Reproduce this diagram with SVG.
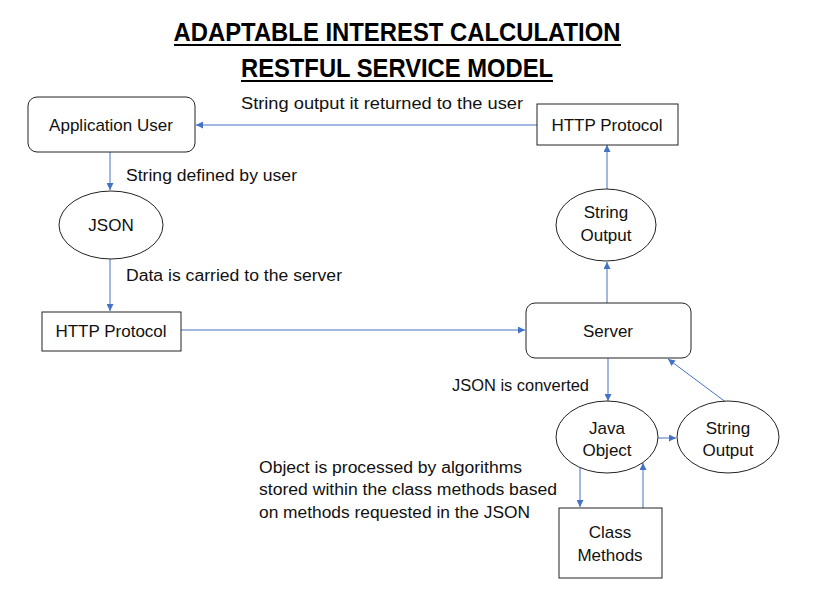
<svg xmlns="http://www.w3.org/2000/svg" width="818" height="598" viewBox="0 0 818 598">
<style>
.n{fill:#fff;stroke:#222;stroke-width:1}
.t{font-family:"Liberation Sans",Arial,sans-serif;font-size:17px;fill:#111;text-anchor:middle}
.l{font-family:"Liberation Sans",Arial,sans-serif;font-size:16px;fill:#111}
.c{fill:none;stroke:#4472C4;stroke-width:1}
.h{font-family:"Liberation Sans",Arial,sans-serif;font-size:26px;font-weight:bold;fill:#000;text-anchor:middle}
</style>
<defs>
<marker id="a" viewBox="0 0 10 10" refX="10" refY="5" markerWidth="7" markerHeight="7" orient="auto" markerUnits="userSpaceOnUse">
<path d="M0,0 L10,5 L0,10 z" fill="#4472C4"/>
</marker>
</defs>
<rect width="818" height="598" fill="#fff"/>
<g id="title">
<text class="h" x="397" y="41" textLength="447" lengthAdjust="spacingAndGlyphs">ADAPTABLE INTEREST CALCULATION</text>
<line x1="174" y1="45" x2="621" y2="45" stroke="#000" stroke-width="2"/>
<text class="h" x="397" y="77" textLength="312" lengthAdjust="spacingAndGlyphs">RESTFUL SERVICE MODEL</text>
<line x1="241" y1="81" x2="553" y2="81" stroke="#000" stroke-width="2"/>
</g>
<g id="connectors">
<path class="c" d="M537,125 H196" marker-end="url(#a)"/>
<path class="c" d="M110,152 V190" marker-end="url(#a)"/>
<path class="c" d="M110,259 V311" marker-end="url(#a)"/>
<path class="c" d="M181,330 H525" marker-end="url(#a)"/>
<path class="c" d="M607,303 V262" marker-end="url(#a)"/>
<path class="c" d="M607,189 V145" marker-end="url(#a)"/>
<path class="c" d="M608,358 V401" marker-end="url(#a)"/>
<path class="c" d="M658,438 H676" marker-end="url(#a)"/>
<path class="c" d="M727,403 L668,359" marker-end="url(#a)"/>
<path class="c" d="M580,468 V507" marker-end="url(#a)"/>
<path class="c" d="M643,508 V463" marker-end="url(#a)"/>
</g>
<g id="labels">
<text class="l" x="241" y="109" textLength="282" lengthAdjust="spacingAndGlyphs">String output it returned to the user</text>
<text class="l" x="126" y="181" textLength="171" lengthAdjust="spacingAndGlyphs">String defined by user</text>
<text class="l" x="126" y="281" textLength="216" lengthAdjust="spacingAndGlyphs">Data is carried to the server</text>
<text class="l" x="452" y="391" textLength="137" lengthAdjust="spacingAndGlyphs">JSON is converted</text>
<text class="l" x="259" y="473" textLength="263" lengthAdjust="spacingAndGlyphs">Object is processed by algorithms</text>
<text class="l" x="259" y="495" textLength="298" lengthAdjust="spacingAndGlyphs">stored within the class methods based</text>
<text class="l" x="259" y="518" textLength="271" lengthAdjust="spacingAndGlyphs">on methods requested in the JSON</text>
</g>
<g id="app-user">
<rect class="n" x="28" y="97" width="167" height="55" rx="9"/>
<text class="t" x="111" y="131">Application User</text>
</g>
<g id="json">
<ellipse class="n" cx="111" cy="225" rx="52" ry="34"/>
<text class="t" x="111" y="231">JSON</text>
</g>
<g id="http-left">
<rect class="n" x="42" y="312" width="139" height="39"/>
<text class="t" x="111" y="337">HTTP Protocol</text>
</g>
<g id="server">
<rect class="n" x="526" y="303" width="165" height="55" rx="9"/>
<text class="t" x="608" y="337">Server</text>
</g>
<g id="http-right">
<rect class="n" x="537" y="104" width="141" height="41"/>
<text class="t" x="607" y="131">HTTP Protocol</text>
</g>
<g id="string-output-top">
<ellipse class="n" cx="606" cy="225" rx="50" ry="36"/>
<text class="t" x="606" y="218">String</text>
<text class="t" x="606" y="241">Output</text>
</g>
<g id="java-object">
<ellipse class="n" cx="607" cy="437" rx="51" ry="36"/>
<text class="t" x="607" y="434">Java</text>
<text class="t" x="607" y="456">Object</text>
</g>
<g id="string-output-bottom">
<ellipse class="n" cx="728" cy="437" rx="51" ry="36"/>
<text class="t" x="728" y="434">String</text>
<text class="t" x="728" y="456">Output</text>
</g>
<g id="class-methods">
<rect class="n" x="559" y="508" width="103" height="70" stroke="#555"/>
<text class="t" x="610" y="538">Class</text>
<text class="t" x="610" y="561">Methods</text>
</g>
</svg>
